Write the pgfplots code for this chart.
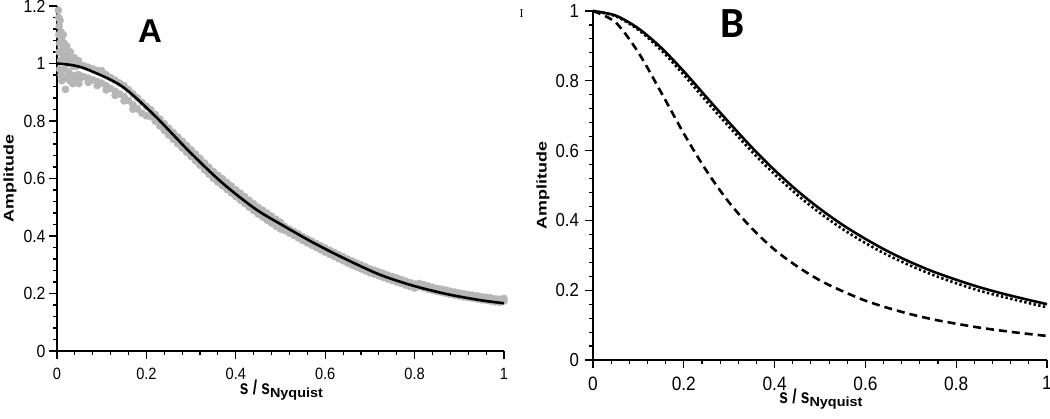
\documentclass[border=0pt]{standalone}
\usepackage{pgfplots}
\pgfplotsset{compat=1.18}
\usepackage{fontspec}
\setmainfont{Liberation Sans}
\newfontfamily\carlito{Carlito}
\newfontfamily\serifI{Liberation Serif}
\definecolor{dotgray}{RGB}{182,182,182}

% axis titles of the original are stretched, so scale them a little
\newcommand{\snyq}{\bfseries\scalebox{1}[1.3]{\fontsize{15.5}{18}\selectfont s / s}\raisebox{-0.55ex}{\scalebox{1.2}[1.1]{\fontsize{12}{14}\selectfont Nyquist}}}
\newcommand{\ampl}{\bfseries\scalebox{1.28}[1]{\fontsize{14}{16}\selectfont Amplitude}}

\pgfplotsset{
  panel/.style={
    scale only axis,
    axis lines=left,
    axis line style={-, line width=1.2pt},
    xmin=0, xmax=1, ymin=0,
    xtick={0,0.2,...,1},
    minor tick num=4,
    xtick align=outside, ytick align=outside,
    major tick length=8pt,
    minor tick length=4pt,
    every tick/.style={black, line width=1.1pt},
    /pgf/number format/assume math mode=true,
    xticklabel={\scalebox{1}[1.12]{\pgfmathprintnumber{\tick}}},
    yticklabel={\scalebox{1}[1.12]{\pgfmathprintnumber{\tick}}},
    clip=false,
    clip marker paths=true,
  },
}

\begin{document}
\begin{tikzpicture}
\useasboundingbox (0,0) rectangle (1050pt,418pt);

% ---------- panel A ----------
\begin{axis}[panel,
    at={(57pt,67pt)}, anchor=south west,
    width=447pt, height=345pt,
    ymax=1.2,
    ytick={0,0.2,...,1.2},
    xticklabel style={font=\fontsize{14.6}{16}\selectfont, yshift=-6pt},
    yticklabel style={font=\fontsize{15.8}{17}\selectfont},
    xlabel={\snyq},
    ylabel={\ampl},
    xlabel style={anchor=base, at={(axis description cs:0.502,-0.125)}},
    ylabel style={anchor=center, at={(axis description cs:-0.105,0.5)}},
]
% measured points (grey cloud)
\addplot[only marks, mark=*, mark size=3.6pt, color=dotgray] coordinates {
(0.003,1.185) (0.004,1.160) (0.005,1.130) (0.004,1.100) (0.007,1.150)
(0.006,1.070) (0.009,1.110) (0.005,1.040) (0.011,1.080) (0.008,1.010)
(0.013,1.050) (0.006,0.980) (0.014,1.100) (0.009,0.960) (0.016,1.070)
(0.013,1.020) (0.018,1.040) (0.011,0.940) (0.020,1.010) (0.017,0.980)
(0.022,1.060) (0.019,0.910) (0.024,1.030) (0.021,0.950) (0.027,1.000)
(0.026,0.970) (0.030,1.040) (0.029,0.940) (0.033,1.010) (0.032,0.960)
(0.036,0.990) (0.035,0.930) (0.039,1.020) (0.040,0.950) (0.043,0.990)
(0.045,0.960) (0.048,1.010) (0.049,0.930)
(0.05,0.998) (0.05,0.960) (0.05,0.945)
(0.06,0.992) (0.06,0.954)
(0.07,0.987) (0.07,0.949) (0.07,0.934)
(0.08,0.981) (0.08,0.943)
(0.09,0.976) (0.09,0.938) (0.09,0.923)
(0.10,0.975) (0.10,0.932)
(0.11,0.961) (0.11,0.923) (0.11,0.908)
(0.12,0.951) (0.12,0.913)
(0.13,0.942) (0.13,0.904) (0.13,0.889)
(0.14,0.932) (0.14,0.894)
(0.15,0.923) (0.15,0.885) (0.15,0.870)
(0.16,0.909) (0.16,0.871)
(0.17,0.894) (0.17,0.856) (0.17,0.841)
(0.18,0.880) (0.18,0.842)
(0.19,0.865) (0.19,0.827)
(0.20,0.851) (0.20,0.818)
(0.21,0.839) (0.21,0.815) (0.22,0.823) (0.22,0.799)
(0.23,0.807) (0.23,0.783) (0.24,0.791) (0.24,0.767)
(0.25,0.775) (0.25,0.751) (0.26,0.760) (0.26,0.736)
(0.27,0.745) (0.27,0.721) (0.28,0.730) (0.28,0.706)
(0.29,0.715) (0.29,0.691) (0.30,0.700) (0.30,0.676)
(0.31,0.685) (0.31,0.661) (0.32,0.670) (0.32,0.646)
(0.33,0.654) (0.33,0.630) (0.34,0.639) (0.34,0.615)
(0.35,0.624) (0.35,0.600) (0.36,0.611) (0.36,0.587)
(0.37,0.599) (0.37,0.575) (0.38,0.586) (0.38,0.562)
(0.39,0.574) (0.39,0.550) (0.40,0.561) (0.40,0.537)
(0.41,0.549) (0.41,0.525) (0.42,0.537) (0.42,0.513)
(0.43,0.524) (0.43,0.500) (0.44,0.512) (0.44,0.488)
(0.45,0.500) (0.45,0.476) (0.46,0.490) (0.46,0.466)
(0.47,0.479) (0.47,0.455) (0.48,0.469) (0.48,0.445)
(0.49,0.458) (0.49,0.434) (0.50,0.448) (0.50,0.424)
(0.51,0.433) (0.51,0.419) (0.52,0.424) (0.52,0.410)
(0.53,0.416) (0.53,0.402) (0.54,0.407) (0.54,0.393)
(0.55,0.398) (0.55,0.384) (0.56,0.390) (0.56,0.376)
(0.57,0.382) (0.57,0.368) (0.58,0.374) (0.58,0.360)
(0.59,0.366) (0.59,0.352) (0.60,0.358) (0.60,0.344)
(0.61,0.350) (0.61,0.336) (0.62,0.343) (0.62,0.329)
(0.63,0.335) (0.63,0.321) (0.64,0.328) (0.64,0.314)
(0.65,0.320) (0.65,0.306) (0.66,0.313) (0.66,0.299)
(0.67,0.306) (0.67,0.292) (0.68,0.300) (0.68,0.286)
(0.69,0.293) (0.69,0.279) (0.70,0.286) (0.70,0.272)
(0.71,0.281) (0.71,0.267) (0.72,0.275) (0.72,0.261)
(0.73,0.270) (0.73,0.256) (0.74,0.264) (0.74,0.250)
(0.75,0.259) (0.75,0.245) (0.76,0.254) (0.76,0.240)
(0.77,0.249) (0.77,0.235) (0.78,0.243) (0.78,0.229)
(0.79,0.238) (0.79,0.224) (0.80,0.233) (0.80,0.219)
(0.81,0.235) (0.81,0.224) (0.82,0.231) (0.82,0.220)
(0.83,0.226) (0.83,0.215) (0.84,0.222) (0.84,0.211)
(0.85,0.218) (0.85,0.207) (0.86,0.215) (0.86,0.204)
(0.87,0.212) (0.87,0.201) (0.88,0.208) (0.88,0.197)
(0.89,0.205) (0.89,0.194) (0.90,0.202) (0.90,0.191)
(0.91,0.199) (0.91,0.188) (0.92,0.197) (0.92,0.186)
(0.93,0.194) (0.93,0.183) (0.94,0.192) (0.94,0.181)
(0.95,0.189) (0.95,0.178) (0.96,0.187) (0.96,0.176)
(0.97,0.185) (0.97,0.174) (0.98,0.182) (0.98,0.171)
(0.99,0.180) (0.99,0.169) (1.00,0.183) (1.00,0.174)
};
% fitted curve, drawn above the grey points
\addplot[black, line width=2.6pt, smooth] coordinates {
(0,1.000) (0.035,0.994) (0.07,0.978) (0.145,0.921) (0.219,0.818)
(0.294,0.697) (0.368,0.587) (0.443,0.495) (0.505,0.437) (0.573,0.377)
(0.648,0.318) (0.723,0.265) (0.797,0.227) (0.872,0.198) (0.946,0.177)
(1.000,0.166)
};
\end{axis}

% ---------- panel B ----------
\begin{axis}[panel,
    at={(593pt,58pt)}, anchor=south west,
    width=454pt, height=349pt,
    ymax=1,
    ytick={0,0.2,...,1},
    xticklabel style={font=\fontsize{17.3}{19}\selectfont, yshift=-5pt},
    yticklabel style={font=\fontsize{16.8}{18}\selectfont, xshift=-2.5pt},
    xlabel={\snyq},
    ylabel={\ampl},
    xlabel style={anchor=base, at={(axis description cs:0.502,-0.126)}},
    ylabel style={anchor=center, at={(axis description cs:-0.110,0.5)}},
]
% solid
\addplot[black, line width=2.6pt, smooth] coordinates {
(0,1.000) (0.05,0.987) (0.10,0.950) (0.15,0.895) (0.20,0.827)
(0.25,0.753) (0.30,0.680) (0.35,0.609) (0.40,0.544) (0.45,0.485)
(0.50,0.433) (0.55,0.387) (0.60,0.347) (0.65,0.311) (0.70,0.280)
(0.75,0.253) (0.80,0.230) (0.85,0.209) (0.90,0.191) (0.95,0.175)
(1.00,0.160)
};
% dotted
\addplot[black, line width=2.6pt, smooth, dash pattern=on 2.4pt off 2.4pt] coordinates {
(0,1.000) (0.05,0.985) (0.10,0.946) (0.15,0.888) (0.20,0.817)
(0.25,0.741) (0.30,0.668) (0.35,0.597) (0.40,0.532) (0.45,0.473)
(0.50,0.421) (0.55,0.375) (0.60,0.335) (0.65,0.300) (0.70,0.270)
(0.75,0.243) (0.80,0.220) (0.85,0.199) (0.90,0.182) (0.95,0.166)
(1.00,0.151)
};
% dashed
\addplot[black, line width=2.6pt, smooth, dash pattern=on 8pt off 5pt] coordinates {
(0,1.000) (0.05,0.967) (0.10,0.881) (0.15,0.767) (0.20,0.649)
(0.25,0.542) (0.30,0.451) (0.35,0.377) (0.40,0.316) (0.45,0.268)
(0.50,0.228) (0.55,0.197) (0.60,0.170) (0.65,0.149) (0.70,0.131)
(0.75,0.116) (0.80,0.104) (0.85,0.093) (0.90,0.084) (0.95,0.076)
(1.00,0.069)
};
\end{axis}

% panel letters and stray mark
\node[inner sep=0pt, font=\bfseries\fontsize{33}{35}\selectfont] at (150pt,386.5pt) {A};
\node[inner sep=0pt, font=\carlito\bfseries\fontsize{43}{45}\selectfont] at (733pt,394.5pt) {B};
\node[inner sep=0pt, font=\serifI\fontsize{12}{13}\selectfont] at (521.7pt,404.7pt) {I};
\end{tikzpicture}
\end{document}
